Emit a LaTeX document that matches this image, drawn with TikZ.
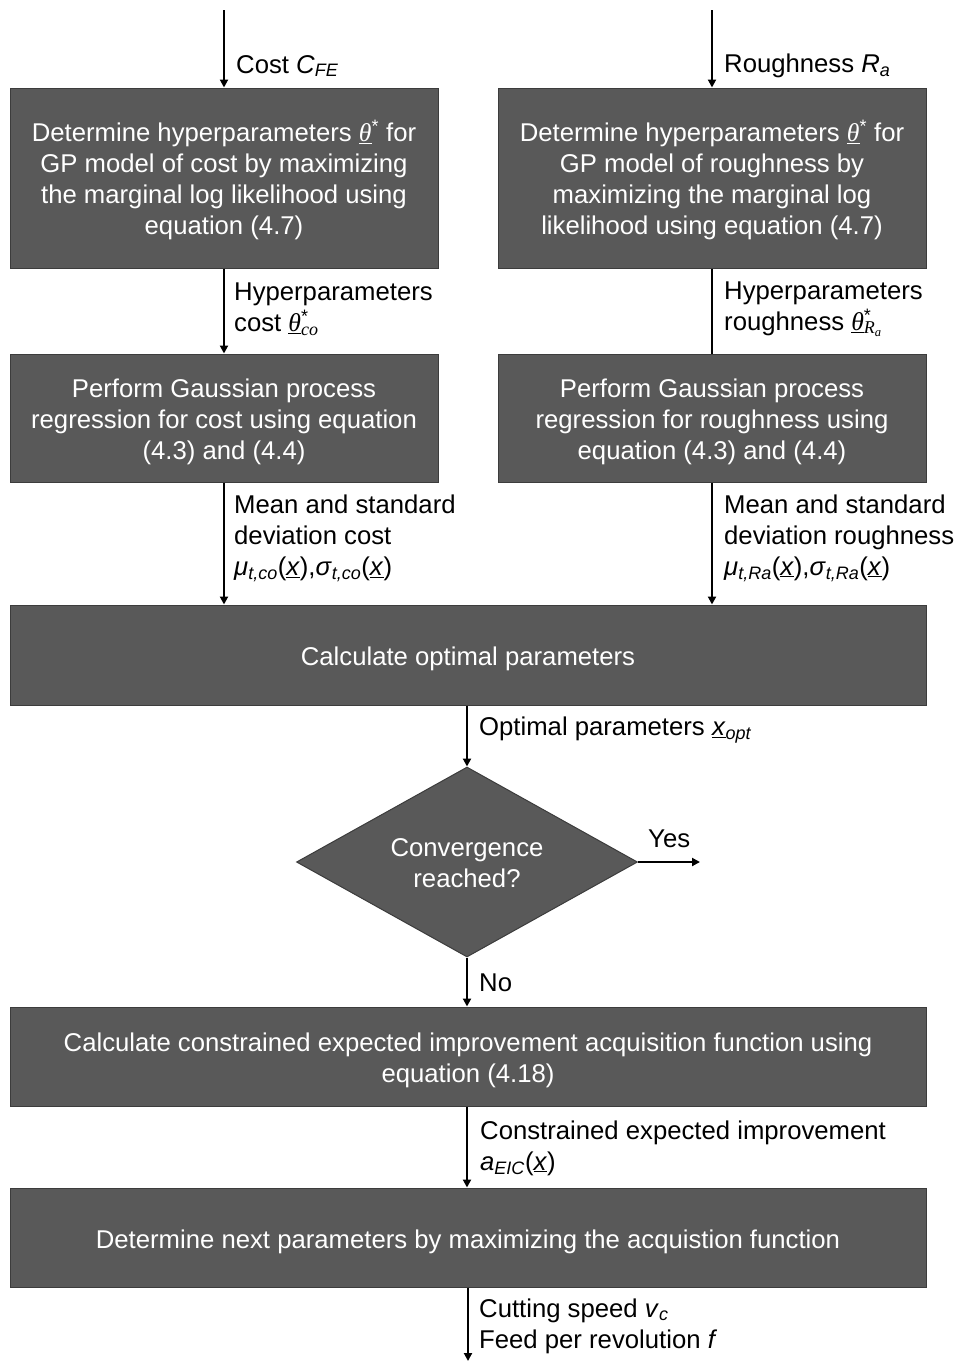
\documentclass[tikz,border=0pt]{standalone}
\usepackage{fontspec}
\setmainfont{Liberation Sans}
\newfontfamily\mathserif{Liberation Serif}
\usetikzlibrary{arrows.meta,shapes.geometric}
\definecolor{boxfill}{RGB}{89,89,89}
\definecolor{boxline}{RGB}{60,60,60}
\newcommand{\ul}[1]{\underline{#1}}
% underlined theta with star, optionally with a subscript under the star
\newcommand{\thstar}{\ul{{\mathserif\itshape θ}}\textsuperscript{*}}
\newcommand{\thsub}[1]{\ul{{\mathserif\itshape θ}}\rlap{\textsuperscript{*}}\textsubscript{#1}}
\begin{document}
\begin{tikzpicture}[x=1pt,y=-1pt]
\tikzset{
  box/.style={draw=boxline, line width=1pt, fill=boxfill, inner sep=0pt},
  boxtext/.style={text=white, align=center, inner sep=0pt,
                  font=\fontsize{25.7}{31}\selectfont},
  txt/.style 2 args={label={[boxtext, yshift=-#1pt]center:{#2}}},
  wide/.style={box, minimum width=916pt, minimum height=99pt},
  half/.style={box, minimum width=428pt},
  lbl/.style={anchor=west, align=left, inner sep=0pt, font=\fontsize{25.7}{31}\selectfont},
  arr/.style={line width=2pt, -{Triangle[width=8pt,length=8pt]}},
  ln/.style={line width=2pt}
}
\useasboundingbox (0,0) rectangle (957,1361);

% upper row: hyperparameter estimation
\node[half, minimum height=180pt,
  txt={2}{Determine hyperparameters \thstar{} for\\GP model of cost by maximizing\\the marginal log likelihood using\\equation (4.7)}] (hypc) at (224,178) {};
\node[half, minimum height=180pt,
  txt={2}{Determine hyperparameters \thstar{} for\\GP model of roughness by\\maximizing the marginal log\\likelihood using equation (4.7)}] (hypr) at (712,178) {};

% Gaussian process regression
\node[half, minimum height=128pt,
  txt={4}{Perform Gaussian process\\regression for cost using equation\\(4.3) and (4.4)}] (gpc) at (224,418) {};
\node[half, minimum height=128pt,
  txt={4}{Perform Gaussian process\\regression for roughness using\\equation (4.3) and (4.4)}] (gpr) at (712,418) {};

\node[wide, minimum height=100pt, txt={4}{Calculate optimal parameters}] (opt) at (468,655) {};

\node[box, shape=diamond, aspect=1.8, minimum width=341pt, minimum height=190pt,
  txt={1}{Convergence\\reached?}] (conv) at (467,862) {};

\node[wide, txt={4}{Calculate constrained expected improvement acquisition function using\\equation (4.18)}] (acq) at (468,1056.5) {};
\node[wide, txt={4}{Determine next parameters by maximizing the acquistion function}] (next) at (468,1237.5) {};

% free ends
\coordinate (inc) at (224,10);
\coordinate (inr) at (712,10);
\coordinate (yes) at (700,862);
\coordinate (out) at (468,1361);

% connectors
\draw[arr] (inc) -- (hypc.north);
\draw[arr] (inr) -- (hypr.north);
\draw[arr] (hypc.south) -- (gpc.north);
\draw[ln]  (hypr.south) -- (gpr.north);
\draw[arr] (gpc.south) -- (gpc.south |- opt.north);
\draw[arr] (gpr.south) -- (gpr.south |- opt.north);
\draw[arr] (opt.south -| conv.north) -- (conv.north);
\draw[arr] (conv.east) -- (yes);
\draw[arr] (conv.south) -- (conv.south |- acq.north);
\draw[arr] (acq.south -| conv.south) -- (conv.south |- next.north);
\draw[arr] (next.south -| out) -- (out);

% connector labels
\node[lbl] (lcost) at (236,66) {Cost \textit{C}\textsubscript{\textit{FE}}};
\node[lbl] (lrough) at (724,66) {Roughness \textit{R}\textsubscript{\textit{a}}};
\node[lbl] (lhc) at (234,309) {Hyperparameters\\cost \thsub{\mathserif\itshape co}};
\node[lbl] (lhr) at (724,309) {Hyperparameters\\roughness \thsub{\mathserif\itshape R\textsubscript{a}}};
\node[lbl] (lmc) at (234,538) {Mean and standard\\deviation cost\\\textit{μ}\textsubscript{\textit{t,co}}(\ul{\textit{x}}),\textit{σ}\textsubscript{\textit{t,co}}(\ul{\textit{x}})};
\node[lbl] (lmr) at (724,538) {Mean and standard\\deviation roughness\\\textit{μ}\textsubscript{\textit{t,Ra}}(\ul{\textit{x}}),\textit{σ}\textsubscript{\textit{t,Ra}}(\ul{\textit{x}})};
\node[lbl] (lopt) at (479,730) {Optimal parameters \ul{\textit{x}}\textsubscript{\textit{opt}}};
\node[lbl] (lyes) at (648,839) {Yes};
\node[lbl] (lno) at (479,983) {No};
\node[lbl] (leic) at (480,1148) {Constrained expected improvement\\\textit{a}\textsubscript{\textit{EIC}}(\ul{\textit{x}})};
\node[lbl] (lcut) at (479,1326) {Cutting speed \textit{v}\textsubscript{\textit{c}}\\Feed per revolution \textit{f}};
\end{tikzpicture}
\end{document}
